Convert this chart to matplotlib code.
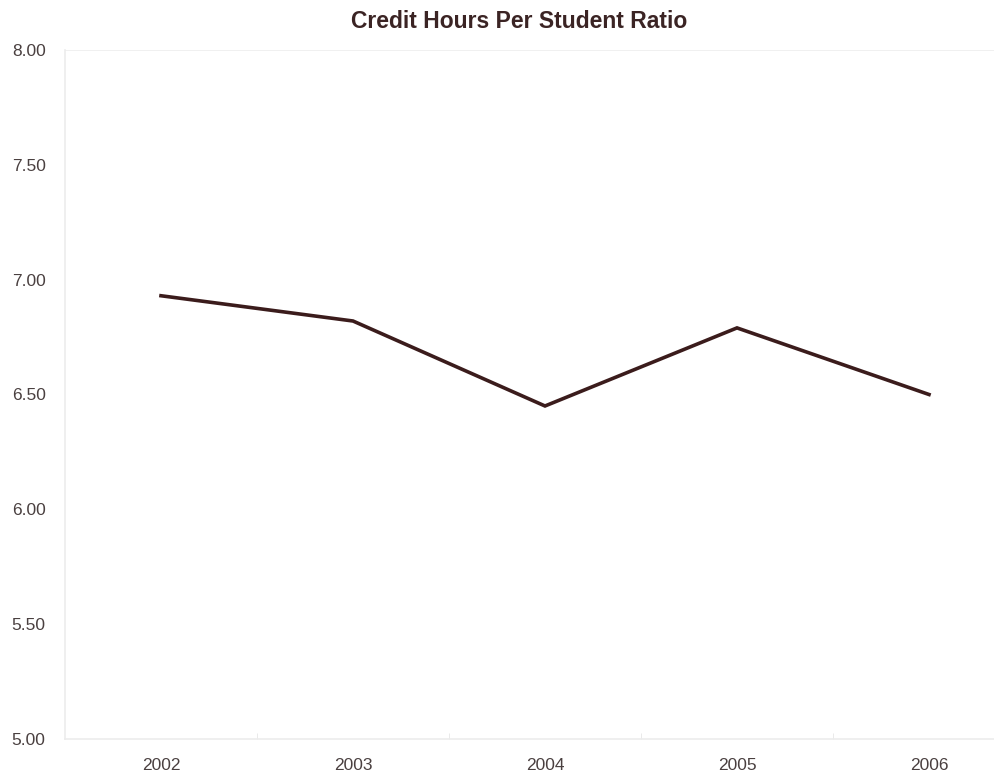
import matplotlib.pyplot as plt
from matplotlib.ticker import FixedLocator

years = ['2002', '2003', '2004', '2005', '2006']
ratio = [6.93, 6.82, 6.45, 6.79, 6.50]
y_ticks = [5.00, 5.50, 6.00, 6.50, 7.00, 7.50, 8.00]

plt.rcParams['font.family'] = ['Liberation Sans', 'DejaVu Sans']

fig = plt.figure(figsize=(9.95, 7.75), dpi=100)
ax = fig.add_axes([65 / 995, 1 - 739 / 775, 960 / 995, 689 / 775])

x = list(range(len(years)))
ax.plot(x, ratio, color='#3b1c1c', linewidth=2.6, solid_joinstyle='miter')

ax.set_xlim(-0.5, len(years) - 0.5)
ax.set_ylim(5, 8)
ax.set_xticks(x)
ax.set_xticklabels(years)
ax.set_yticks(y_ticks)
ax.set_yticklabels(['%.2f' % v for v in y_ticks])
ax.xaxis.set_minor_locator(FixedLocator([i + 0.5 for i in range(len(years) - 1)]))

ax.tick_params(axis='both', which='major', length=0, labelsize=12.5,
               labelcolor='#4a4040')
ax.tick_params(axis='x', which='major', pad=14)
ax.tick_params(axis='y', which='major', pad=14)
ax.tick_params(axis='x', which='minor', length=4, color='#e6e6e6', direction='in')

for side in ['left', 'bottom']:
    ax.spines[side].set_color('#ececec')
    ax.spines[side].set_linewidth(1.2)
ax.spines['right'].set_visible(False)
ax.spines['top'].set_visible(False)
ax.axhline(8, color='#eeeeee', linewidth=1.2)

fig.text(519 / 995, 1 - 21 / 775, 'Credit Hours Per Student Ratio', ha='center',
         va='center', fontsize=16.5, fontweight='bold', color='#3b2424')

fig.savefig('out.png', dpi=100)
